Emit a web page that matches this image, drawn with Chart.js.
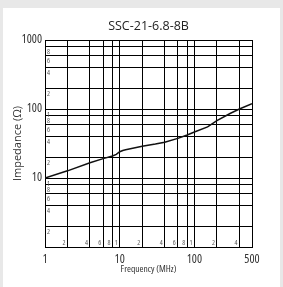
<!DOCTYPE html>
<html>
<head>
<meta charset="utf-8">
<script src="https://cdn.jsdelivr.net/npm/chart.js@4/dist/chart.umd.min.js"></script>
<style>
  body { margin: 0; background: #e8e8e8; }
  #box { position: absolute; left: 3px; top: 8px; width: 277px; height: 279px; background: #fff; }
</style>
</head>
<body>
<div id="box"><canvas id="chart"></canvas></div>
<script>
// curva di impedenza
const frequency = [1, 2, 4, 6, 8, 9, 10, 11, 12, 20, 30, 40, 60, 80, 100, 150, 200, 300, 400, 590];
const impedance = [10, 12.7, 16.6, 19.1, 20.8, 22, 24, 25, 25.6, 28.8, 31, 33, 37.5, 42, 46.5, 55, 68, 86, 100, 119];

// griglia e etichette
const xGrid = [1, 2, 4, 6, 8, 10, 20, 40, 60, 80, 100, 200, 400, 590];
const xTickValues = [1, 10, 100, 590];
const xTickLabels = ['1', '10', '100', '500'];
const xMinorTicks = [2, 4, 6, 8, 10, 20, 40, 60, 80, 100, 200, 400];
const xMinorLabels = ['2', '4', '6', '8', '1', '2', '4', '6', '8', '1', '2', '4'];

const yGrid = [1, 2, 4, 6, 8, 10, 20, 40, 60, 80, 100, 200, 400, 600, 800, 1000];
const yTickValues = [10, 100, 1000];
const yTickLabels = ['10', '100', '1000'];
const yMinorTicks = [2, 4, 6, 8, 10, 20, 40, 60, 80, 100, 200, 400, 600, 800];
const yMinorLabels = ['2', '4', '6', '8', '1', '2', '4', '6', '8', '1', '2', '4', '6', '8'];

// font stretto: la larghezza passa nel campo weight, Chart.js lo mette nella stringa font
const FAMILY = '"Open Sans", sans-serif';
const font = (size, stretch = 'condensed') => ({ family: FAMILY, size, weight: stretch });

const minorLabels = {
  id: 'minorLabels',
  beforeDatasetsDraw(chart) {
    const { ctx, chartArea, scales: { x, y } } = chart;
    ctx.save();
    ctx.font = 'condensed 7px ' + FAMILY;
    ctx.fillStyle = '#555';
    ctx.textAlign = 'right';
    ctx.textBaseline = 'bottom';
    xMinorTicks.forEach((v, i) => ctx.fillText(xMinorLabels[i], x.getPixelForValue(v) - 2, chartArea.bottom - 1));
    ctx.textAlign = 'left';
    ctx.textBaseline = 'top';
    yMinorTicks.forEach((v, i) => ctx.fillText(yMinorLabels[i], chartArea.left + 2, y.getPixelForValue(v) + 2));
    ctx.restore();
  }
};

const ctx = document.getElementById('chart').getContext('2d');

const chart = new Chart(ctx, {
  type: 'line',
  data: {
    datasets: [{
      data: frequency.map((f, i) => ({ x: f, y: impedance[i] })),
      borderColor: '#111',
      borderWidth: 1.5,
      pointRadius: 0,
      tension: 0
    }]
  },
  options: {
    responsive: true,
    maintainAspectRatio: false,
    animation: false,
    layout: { padding: 0 },
    plugins: { legend: { display: false }, tooltip: { enabled: false } },
    scales: {
      x: {
        type: 'logarithmic',
        position: 'bottom',
        min: 1,
        max: 590,
        afterBuildTicks: s => { s.ticks = xGrid.map(v => ({ value: v })); },
        afterFit: s => { s.height = 40; },
        grid: { color: '#000', lineWidth: 1, drawTicks: false },
        border: { color: '#000' },
        ticks: {
          autoSkip: false,
          maxRotation: 0,
          padding: 5,
          color: '#333',
          font: font(12),
          callback: v => { const i = xTickValues.indexOf(v); return i < 0 ? '' : xTickLabels[i]; }
        },
        title: {
          display: true,
          text: 'Frequency (MHz)',
          color: '#333',
          font: font(9.5),
          padding: { top: 0, bottom: 12 }
        }
      },
      top: {
        type: 'linear',
        position: 'top',
        afterFit: s => { s.height = 32; },
        grid: { display: false },
        border: { display: false },
        ticks: { display: false },
        title: {
          display: true,
          text: 'SSC-21-6.8-8B',
          color: '#222',
          font: font(12.5, 'normal'),
          padding: { top: 11, bottom: 0 }
        }
      },
      y: {
        type: 'logarithmic',
        position: 'left',
        min: 1,
        max: 1000,
        afterBuildTicks: s => { s.ticks = yGrid.map(v => ({ value: v })); },
        afterFit: s => { s.width = 42; },
        grid: { color: '#000', lineWidth: 1, drawTicks: false },
        border: { color: '#000' },
        ticks: {
          autoSkip: false,
          padding: 3,
          color: '#333',
          font: font(12),
          callback: v => { const i = yTickValues.indexOf(v); return i < 0 ? '' : yTickLabels[i]; }
        },
        title: {
          display: true,
          text: 'Impedance (Ω)',
          color: '#333',
          font: font(11, 'normal'),
          padding: { top: 8, bottom: 0 }
        }
      },
      right: {
        type: 'linear',
        position: 'right',
        afterFit: s => { s.width = 28; },
        grid: { display: false },
        border: { display: false },
        ticks: { display: false }
      }
    }
  },
  plugins: [minorLabels]
});
</script>
</body>
</html>
